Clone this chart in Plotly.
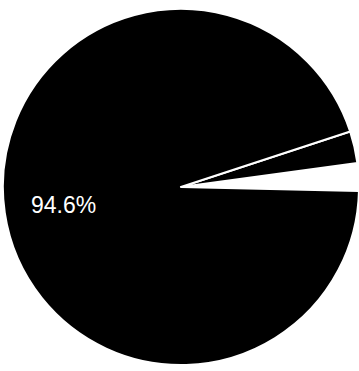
import plotly.graph_objects as go

labels = ["Segment C", "Segment B", "Segment A"]
values = [2.5, 2.9, 94.6]
colors = ["#ffffff", "#000000", "#000000"]
label_value = values[2]

fig = go.Figure(go.Pie(
    labels=labels,
    values=values,
    sort=False,
    direction="counterclockwise",
    rotation=82.3,
    marker=dict(colors=colors, line=dict(color="#ffffff", width=2)),
    textinfo="none",
    domain=dict(x=[0.008, 1.0], y=[0.0146, 0.9776]),
    showlegend=False,
    hoverinfo="label+percent",
))

fig.add_annotation(
    x=0.178, y=0.4474, xref="paper", yref="paper",
    text=f"{label_value:.1f}%", showarrow=False,
    xanchor="center", yanchor="middle",
    font=dict(family="Liberation Sans, Arial, sans-serif", size=23, color="#ffffff"),
)

fig.update_layout(
    width=359, height=371,
    margin=dict(l=0, r=0, t=0, b=0),
    paper_bgcolor="#ffffff",
    plot_bgcolor="#ffffff",
)

fig.write_html("out.html")
